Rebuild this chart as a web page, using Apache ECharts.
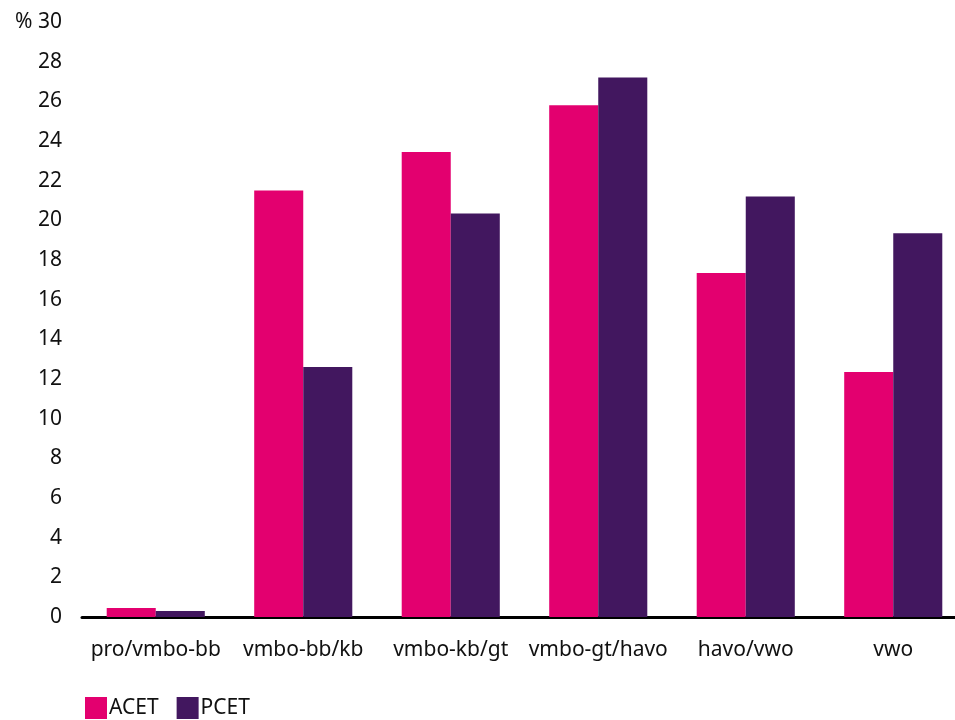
<!DOCTYPE html>
<html>
<head>
<meta charset="utf-8">
<script src="https://cdn.jsdelivr.net/npm/echarts@6/dist/echarts.min.js"></script>
<style>
  html, body { margin: 0; padding: 0; background: #fff; }
  #chart { width: 955px; height: 720px; }
</style>
</head>
<body>
<div id="chart"></div>
<script>
const categories = ['pro/vmbo-bb', 'vmbo-bb/kb', 'vmbo-kb/gt', 'vmbo-gt/havo', 'havo/vwo', 'vwo'];
const acet = [0.45, 21.5, 23.45, 25.8, 17.35, 12.35];
const pcet = [0.3, 12.6, 20.35, 27.2, 21.2, 19.35];

const COLOR_ACET = '#E3006F';
const COLOR_PCET = '#42175F';
const FONT = '"Noto Sans", "Open Sans", sans-serif';

const chart = echarts.init(document.getElementById('chart'));

chart.setOption({
    animation: false,
    textStyle: { fontFamily: FONT },
    grid: { left: 82, width: 885, top: 22, bottom: 103, containLabel: false, outerBoundsMode: 'none' },
    legend: {
        left: 80,
        top: 692,
        itemWidth: 22,
        itemHeight: 22,
        itemGap: 18,
        icon: 'rect',
        textStyle: { fontSize: 21, color: '#111', fontFamily: FONT, padding: [0, 0, 0, -3] },
        data: ['ACET', 'PCET']
    },
    xAxis: {
        type: 'category',
        data: categories,
        axisLine: { lineStyle: { color: '#000', width: 3 } },
        axisTick: { show: false },
        axisLabel: { color: '#111', fontSize: 21, margin: 23, interval: 0 }
    },
    yAxis: {
        type: 'value',
        min: 0,
        max: 30,
        interval: 2,
        splitLine: { show: false },
        axisLine: { show: false },
        axisTick: { show: false },
        axisLabel: {
            color: '#111',
            fontSize: 21,
            margin: 20,
            formatter: v => v === 30 ? '% 30' : String(v)
        }
    },
    series: [
        {
            name: 'ACET',
            type: 'bar',
            data: acet,
            barGap: '0%',
            barCategoryGap: '33.5%',
            itemStyle: { color: COLOR_ACET }
        },
        {
            name: 'PCET',
            type: 'bar',
            data: pcet,
            barGap: '0%',
            barCategoryGap: '33.5%',
            itemStyle: { color: COLOR_PCET }
        }
    ]
});
</script>
</body>
</html>
